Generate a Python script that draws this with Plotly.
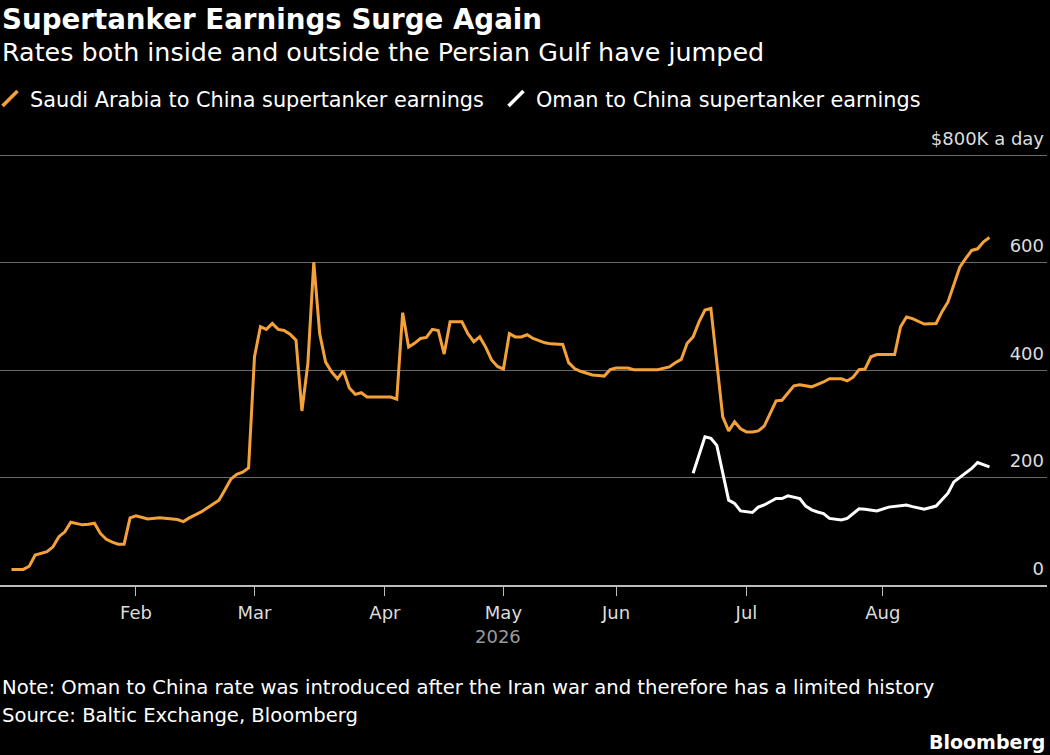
import plotly.graph_objects as go

# Saudi Arabia -> China supertanker earnings ($K a day)
saudi_dates = [
    "2026-01-02", "2026-01-06", "2026-01-07", "2026-01-08", "2026-01-12", "2026-01-13",
    "2026-01-14", "2026-01-15", "2026-01-16", "2026-01-20", "2026-01-21", "2026-01-22",
    "2026-01-23", "2026-01-26", "2026-01-27", "2026-01-28", "2026-01-29", "2026-01-30",
    "2026-02-02", "2026-02-04", "2026-02-06", "2026-02-11", "2026-02-12", "2026-02-13",
    "2026-02-17", "2026-02-18", "2026-02-20", "2026-02-23", "2026-02-24", "2026-02-25",
    "2026-02-26", "2026-02-27", "2026-03-02", "2026-03-03", "2026-03-04", "2026-03-05",
    "2026-03-06", "2026-03-09", "2026-03-10", "2026-03-11", "2026-03-12", "2026-03-13",
    "2026-03-16", "2026-03-17", "2026-03-18", "2026-03-19", "2026-03-20", "2026-03-23",
    "2026-03-24", "2026-03-25", "2026-03-26", "2026-03-27", "2026-04-02", "2026-04-07",
    "2026-04-08", "2026-04-09", "2026-04-10", "2026-04-13", "2026-04-14", "2026-04-15",
    "2026-04-16", "2026-04-17", "2026-04-20", "2026-04-22", "2026-04-23", "2026-04-24",
    "2026-04-27", "2026-04-28", "2026-04-29", "2026-04-30", "2026-05-01", "2026-05-05",
    "2026-05-06", "2026-05-07", "2026-05-08", "2026-05-11", "2026-05-12", "2026-05-13",
    "2026-05-14", "2026-05-18", "2026-05-19", "2026-05-20", "2026-05-21", "2026-05-22",
    "2026-05-26", "2026-05-27", "2026-05-28", "2026-05-29", "2026-06-01", "2026-06-03",
    "2026-06-04", "2026-06-10", "2026-06-11", "2026-06-12", "2026-06-15", "2026-06-16",
    "2026-06-17", "2026-06-18", "2026-06-19", "2026-06-22", "2026-06-23", "2026-06-25",
    "2026-06-26", "2026-06-29", "2026-06-30", "2026-07-01", "2026-07-02", "2026-07-03",
    "2026-07-06", "2026-07-08", "2026-07-09", "2026-07-13", "2026-07-14", "2026-07-16",
    "2026-07-20", "2026-07-21", "2026-07-23", "2026-07-24", "2026-07-27", "2026-07-28",
    "2026-07-29", "2026-07-30", "2026-07-31", "2026-08-05", "2026-08-06", "2026-08-07",
    "2026-08-10", "2026-08-12", "2026-08-14", "2026-08-17", "2026-08-18", "2026-08-19",
    "2026-08-20", "2026-08-21", "2026-08-24", "2026-08-25", "2026-08-26", "2026-08-27",
]
saudi_values = [
    29, 29, 35, 56, 62, 71,
    90, 99, 117, 112, 113, 115,
    96, 85, 80, 76, 76, 125,
    129, 123, 125, 122, 118, 125,
    136, 143, 158, 177, 197, 206,
    210, 218, 425, 481, 476, 487,
    476, 474, 467, 456, 324, 412,
    601, 468, 415, 397, 384, 399,
    367, 355, 358, 350, 350, 346,
    507, 443, 450, 459, 461, 476,
    474, 430, 490, 490, 468, 453,
    462, 443, 419, 407, 402, 468,
    462, 462, 466, 459, 455, 451,
    449, 448, 414, 403, 398, 394,
    391, 390, 389, 401, 404, 404,
    401, 401, 404, 406, 414, 420,
    450, 462, 490, 512, 515, 313,
    287, 304, 291, 285, 285, 287,
    296, 343, 344, 371, 373, 369,
    378, 384, 384, 380, 387, 401,
    402, 425, 429, 429, 481, 499,
    496, 486, 487, 509, 527, 558,
    592, 608, 623, 626, 639, 647,
]

# Oman -> China supertanker earnings ($K a day)
oman_dates = [
    "2026-06-18", "2026-06-22", "2026-06-23", "2026-06-24", "2026-06-26", "2026-06-29",
    "2026-06-30", "2026-07-01", "2026-07-02", "2026-07-03", "2026-07-06", "2026-07-08",
    "2026-07-09", "2026-07-10", "2026-07-13", "2026-07-14", "2026-07-15", "2026-07-16",
    "2026-07-17", "2026-07-20", "2026-07-21", "2026-07-23", "2026-07-24", "2026-07-28",
    "2026-07-29", "2026-07-31", "2026-08-04", "2026-08-07", "2026-08-10", "2026-08-12",
    "2026-08-14", "2026-08-17", "2026-08-18", "2026-08-19", "2026-08-21", "2026-08-24",
    "2026-08-25", "2026-08-27",
]
oman_values = [
    208, 276, 273, 260, 158, 152,
    138, 136, 135, 145, 149, 161,
    161, 166, 163, 161, 147, 140,
    136, 133, 124, 121, 124, 142,
    141, 138, 145, 149, 146, 141,
    147, 160, 171, 192, 209, 217,
    228, 220,
]

# UK bank holidays (Baltic Exchange does not publish)
holidays = ["2026-01-01", "2026-04-03", "2026-04-06", "2026-05-04", "2026-05-25", "2026-08-31"]

month_ticks = ["2026-02-02", "2026-03-02", "2026-04-01", "2026-05-01", "2026-06-01", "2026-07-01", "2026-08-03"]
month_labels = ["Feb", "Mar", "Apr", "May", "Jun", "Jul", "Aug"]

y_ticks = [0, 200, 400, 600, 800]
y_labels = ["0", "200", "400", "600", "$800K a day"]

ORANGE = "#F5A13A"
WHITE = "#FFFFFF"
FONT = "DejaVu Sans"

fig = go.Figure()

fig.add_trace(go.Scatter(x=saudi_dates, y=saudi_values, mode="lines",
                         line=dict(color=ORANGE, width=3), showlegend=False))
fig.add_trace(go.Scatter(x=oman_dates, y=oman_values, mode="lines",
                         line=dict(color=WHITE, width=3), showlegend=False))

# legend entries drawn as slashes, like the original
for name, col in [("Saudi Arabia to China supertanker earnings", ORANGE),
                  ("Oman to China supertanker earnings", WHITE)]:
    fig.add_trace(go.Scatter(x=[None], y=[None], mode="markers", name=name,
                             marker=dict(symbol="line-ne", size=15, color=col,
                                         line=dict(width=3.5, color=col))))

# plot area spans y pixels 150 (810) .. 585 (0)
def py(p):
    return (585 - p) / 435

fig.update_layout(
    width=1050, height=755,
    paper_bgcolor="black", plot_bgcolor="black",
    margin=dict(l=0, r=3, t=150, b=170, autoexpand=False),
    font=dict(family=FONT, color="#dddddd", size=18),
    legend=dict(orientation="h", xref="container", yref="container",
                x=0, xanchor="left", y=1 - 99 / 755, yanchor="middle",
                indentation=-10,
                font=dict(size=20.8, color=WHITE), itemwidth=30, entrywidth=471,
                bgcolor="rgba(0,0,0,0)"),
    xaxis=dict(
        type="date",
        range=["2025-12-30 01:30", "2026-09-10 17:00"],
        rangebreaks=[dict(bounds=["sat", "mon"]), dict(values=holidays)],
        tickvals=month_ticks, ticktext=month_labels,
        ticks="outside", ticklen=9, tickwidth=1.2, tickcolor="#bbbbbb",
        showline=True, linecolor="#bbbbbb", linewidth=1.5,
        showgrid=False, zeroline=False, ticklabelstandoff=2,
        tickfont=dict(size=18, color="#dddddd"),
    ),
    yaxis=dict(
        side="right", range=[0, 810],
        tickvals=y_ticks, ticktext=y_labels,
        ticklabelposition="inside top", ticklabeloverflow="allow",
        ticklabelshift=-4,
        showgrid=True, gridcolor="#6a6a6a", gridwidth=1.2,
        zeroline=False, showline=False, ticks="",
        tickfont=dict(size=18, color="#dddddd"),
    ),
    annotations=[
        dict(text="<b>Supertanker Earnings Surge Again</b>", xref="paper", yref="paper",
             x=0, y=py(19), xanchor="left", yanchor="middle", showarrow=False,
             font=dict(size=27.7, color=WHITE)),
        dict(text="Rates both inside and outside the Persian Gulf have jumped", xref="paper", yref="paper",
             x=0, y=py(52), xanchor="left", yanchor="middle", showarrow=False,
             font=dict(size=25.4, color=WHITE)),
        dict(text="2026", xref="x", yref="paper", x="2026-04-30", y=py(636),
             xanchor="center", yanchor="middle", showarrow=False,
             font=dict(size=18, color="#9a9a9a")),
        dict(text="Note: Oman to China rate was introduced after the Iran war and therefore has a limited history",
             xref="paper", yref="paper", x=0, y=py(687), xanchor="left", yanchor="middle",
             showarrow=False, font=dict(size=19.6, color=WHITE)),
        dict(text="Source: Baltic Exchange, Bloomberg", xref="paper", yref="paper",
             x=0, y=py(715), xanchor="left", yanchor="middle", showarrow=False,
             font=dict(size=19.6, color=WHITE)),
        dict(text="<b>Bloomberg</b>", xref="paper", yref="paper", x=1, y=py(742),
             xanchor="right", yanchor="middle", showarrow=False,
             font=dict(size=19, color=WHITE)),
    ],
)

fig.write_html("out.html", config={"displayModeBar": False},
               post_script="document.body.style.margin='0';document.body.style.overflow='hidden';")
